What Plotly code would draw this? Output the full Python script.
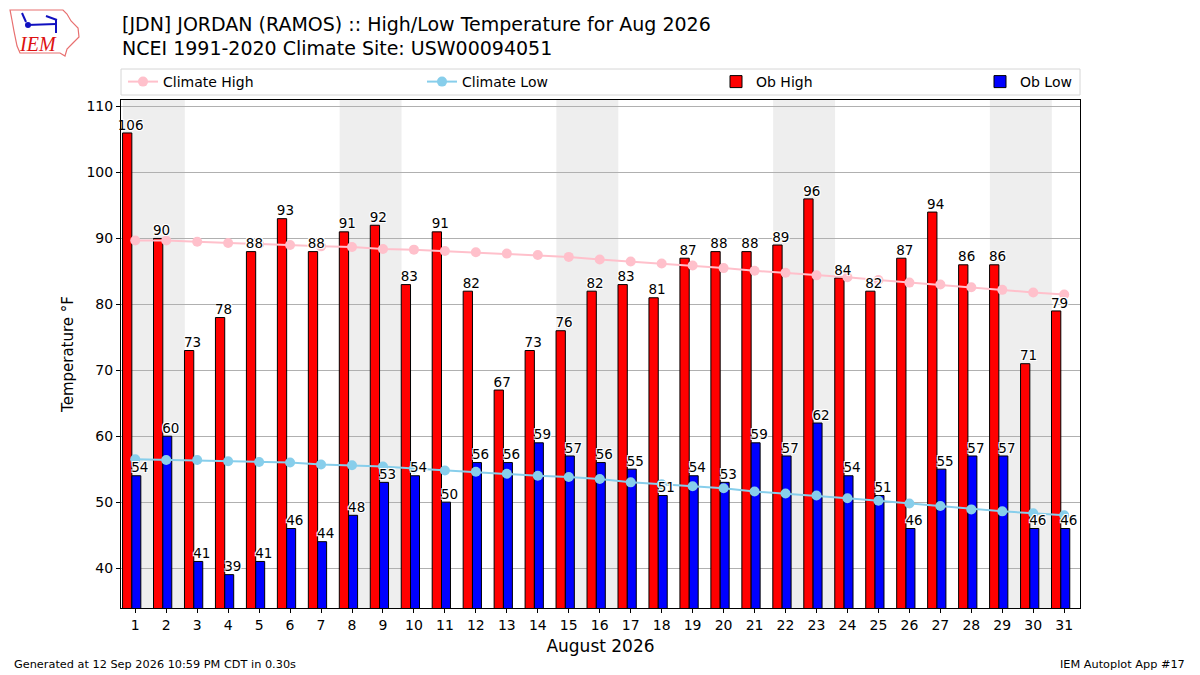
import datetime

import plotly.graph_objects as go

# --- data ---
days = list(range(1, 32))
ob_high = [106, 90, 73, 78, 88, 93, 88, 91, 92, 83, 91, 82, 67, 73, 76, 82,
           83, 81, 87, 88, 88, 89, 96, 84, 82, 87, 94, 86, 86, 71, 79]
ob_low = [54, 60, 41, 39, 41, 46, 44, 48, 53, 54, 50, 56, 56, 59, 57, 56,
          55, 51, 54, 53, 59, 57, 62, 54, 51, 46, 55, 57, 57, 46, 46]
clim_high = [89.7, 89.7, 89.5, 89.3, 89.1, 89.0, 88.8, 88.7, 88.4, 88.3, 88.1,
             87.9, 87.7, 87.5, 87.2, 86.8, 86.5, 86.2, 85.9, 85.5, 85.1, 84.8,
             84.4, 84.1, 83.7, 83.3, 83.0, 82.6, 82.2, 81.8, 81.5]
clim_low = [56.5, 56.4, 56.4, 56.2, 56.1, 56.0, 55.7, 55.6, 55.4, 55.1, 54.8,
            54.6, 54.3, 54.0, 53.8, 53.5, 53.0, 52.7, 52.4, 52.1, 51.6, 51.3,
            51.0, 50.6, 50.2, 49.8, 49.4, 48.9, 48.6, 48.3, 48.0]

year, month = 2026, 8
saturdays = [d for d in days if datetime.date(year, month, d).weekday() == 5]

# page is 1200x675, the html body adds an 8px margin so the figure starts at (8, 8)
PAGE_W, PAGE_H, OFF = 1200, 675, 8
W, H = PAGE_W - OFF, PAGE_H - OFF
# plot area in page pixels
L, R, T, B = 121, 1080, 100, 608
XMIN, XMAX = 0.54, 31.51
FONT = "DejaVu Sans"
OUTLINE = "-1px -1px 0 white, 1px -1px 0 white, -1px 1px 0 white, 1px 1px 0 white"


def px(x):
    return (x - L) / (R - L)


def py(y):
    return (B - y) / (B - T)


fig = go.Figure()

fig.add_trace(go.Bar(
    x=days, y=ob_high, name="Ob High", offset=-0.41, width=0.30,
    marker=dict(color="#ff0000", line=dict(color="black", width=1)),
    legend="legend3",
))
fig.add_trace(go.Bar(
    x=days, y=ob_low, name="Ob Low", offset=-0.11, width=0.29,
    marker=dict(color="#0000ff", line=dict(color="black", width=1)),
    legend="legend4",
))
fig.add_trace(go.Scatter(
    x=days, y=clim_high, name="Climate High", mode="lines+markers",
    line=dict(color="#ffc0cb", width=2), marker=dict(size=10, color="#ffc0cb"),
    legend="legend",
))
fig.add_trace(go.Scatter(
    x=days, y=clim_low, name="Climate Low", mode="lines+markers",
    line=dict(color="#87ceeb", width=2), marker=dict(size=10, color="#87ceeb"),
    legend="legend2",
))

# value labels on top of everything
fig.add_trace(go.Scatter(
    x=[d - 0.15 for d in days], y=ob_high, mode="text",
    text=[str(v) for v in ob_high], textposition="top center",
    textfont=dict(family=FONT, size=13.5, color="black", shadow=OUTLINE),
    showlegend=False, hoverinfo="skip", cliponaxis=False,
))
fig.add_trace(go.Scatter(
    x=[d + 0.15 for d in days], y=ob_low, mode="text",
    text=[str(v) for v in ob_low], textposition="top center",
    textfont=dict(family=FONT, size=13.5, color="black", shadow=OUTLINE),
    showlegend=False, hoverinfo="skip", cliponaxis=False,
))

# weekend shading
shapes = []
for d in saturdays:
    shapes.append(dict(
        type="rect", xref="x", yref="paper", x0=max(d - 0.4, XMIN), x1=min(d + 1.6, XMAX),
        y0=0, y1=1, fillcolor="#eeeeee", line=dict(width=0), layer="below",
    ))

# legend frame
shapes.append(dict(
    type="rect", xref="paper", yref="paper", x0=px(121), x1=px(1080), y0=py(95), y1=py(69),
    line=dict(color="#d6d6d6", width=1), fillcolor="white", layer="below",
))

# IEM logo (rough sketch)
iowa = [(10, 10), (63, 10), (67, 14), (71, 21), (78, 28), (79, 37), (73, 43),
        (67, 49), (65, 56), (60, 53), (20, 53), (17, 46), (14, 31), (12, 20)]
path = "M " + " L ".join(f"{px(a):.4f},{py(b):.4f}" for a, b in iowa) + " Z"
shapes.append(dict(type="path", xref="paper", yref="paper", path=path,
                   line=dict(color="#e87070", width=1.2)))
for (x0, y0, x1, y1) in [(27, 25, 56, 24), (56, 19, 56, 33), (46, 16, 57, 20), (22, 13, 26, 22)]:
    shapes.append(dict(type="line", xref="paper", yref="paper",
                       x0=px(x0), y0=py(y0), x1=px(x1), y1=py(y1),
                       line=dict(color="#1010c0", width=2)))
shapes.append(dict(type="circle", xref="paper", yref="paper",
                   x0=px(25), x1=px(31), y0=py(28), y1=py(22),
                   fillcolor="#1010c0", line=dict(width=0)))

annotations = [
    dict(text="<i>IEM</i>", x=px(38), y=py(44), xref="paper", yref="paper", showarrow=False,
         font=dict(family="Liberation Serif", size=20, color="#dd1111"),
         xanchor="center", yanchor="middle"),
    dict(text="[JDN] JORDAN (RAMOS) :: High/Low Temperature for Aug 2026",
         x=px(120), y=py(24), xref="paper", yref="paper", showarrow=False,
         xanchor="left", yanchor="middle", font=dict(family=FONT, size=19, color="black")),
    dict(text="NCEI 1991-2020 Climate Site: USW00094051",
         x=px(120), y=py(48), xref="paper", yref="paper", showarrow=False,
         xanchor="left", yanchor="middle", font=dict(family=FONT, size=19, color="black")),
    dict(text="Generated at 12 Sep 2026 10:59 PM CDT in 0.30s",
         x=px(12), y=py(664), xref="paper", yref="paper", showarrow=False,
         xanchor="left", yanchor="middle", font=dict(family=FONT, size=11.3, color="black")),
    dict(text="IEM Autoplot App #17",
         x=px(1187), y=py(664), xref="paper", yref="paper", showarrow=False,
         xanchor="right", yanchor="middle", font=dict(family=FONT, size=11.3, color="black")),
]

legend_style = dict(orientation="h", yref="paper", y=py(82), yanchor="middle",
                    xanchor="left", bgcolor="rgba(0,0,0,0)",
                    font=dict(family=FONT, size=14, color="black"))

fig.update_layout(
    width=W, height=H,
    margin=dict(l=L - OFF, r=PAGE_W - R, t=T - OFF, b=PAGE_H - B),
    paper_bgcolor="white", plot_bgcolor="white",
    barmode="overlay",
    font=dict(family=FONT, size=14, color="black"),
    shapes=shapes,
    annotations=annotations,
    legend=dict(x=px(123), **legend_style),
    legend2=dict(x=px(422), **legend_style),
    legend3=dict(x=px(716), **legend_style),
    legend4=dict(x=px(980), **legend_style),
    xaxis=dict(
        range=[XMIN, XMAX], tickmode="array", tickvals=days,
        ticks="outside", ticklen=4, tickcolor="black", showgrid=False,
        showline=True, linecolor="black", linewidth=1, mirror=True,
        tickfont=dict(family=FONT, size=14),
        title=dict(text="August 2026", font=dict(family=FONT, size=17), standoff=8),
    ),
    yaxis=dict(
        range=[33.94, 111.0], tickmode="array", tickvals=[40, 50, 60, 70, 80, 90, 100, 110],
        ticks="outside", ticklen=4, tickcolor="black",
        showgrid=True, gridcolor="#b0b0b0", gridwidth=1, zeroline=False,
        showline=True, linecolor="black", linewidth=1, mirror=True,
        tickfont=dict(family=FONT, size=14),
        title=dict(text="Temperature °F", font=dict(family=FONT, size=15), standoff=9),
    ),
)

fig.write_html("out.html")
